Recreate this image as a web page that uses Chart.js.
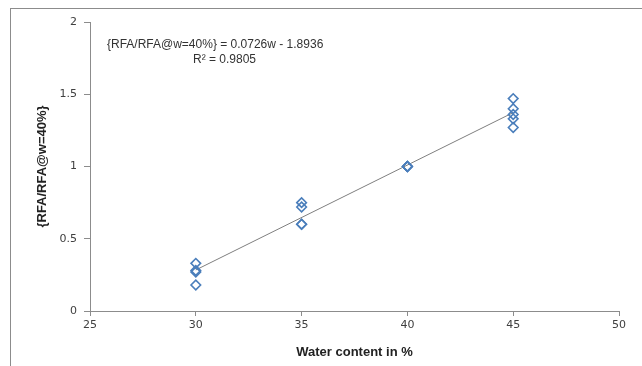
<!DOCTYPE html>
<html>
<head>
<meta charset="utf-8">
<script src="https://cdn.jsdelivr.net/npm/chart.js@4"></script>
<style>
  body { margin: 0; background: #fff; }
  #wrap { position: relative; width: 642px; height: 366px; overflow: hidden; }
  #frame { position: absolute; left: 10px; top: 8px; width: 700px; height: 400px; border: 1px solid #8c8c8c; }
  canvas { position: absolute; left: 0; top: 0; }
</style>
</head>
<body>
<div id="wrap">
  <div id="frame"></div>
  <canvas id="chart" width="642" height="366"></canvas>
</div>
<script>
const waterContent = [30, 30, 30, 30, 35, 35, 35, 35, 40, 40, 40, 40, 45, 45, 45, 45, 45];
const rfaRatio = [0.33, 0.28, 0.27, 0.18, 0.75, 0.72, 0.60, 0.60, 1.0, 1.0, 1.0, 1.0, 1.47, 1.40, 1.36, 1.33, 1.27];

// trend line end points
const trendX = [30, 45];
const trendY = [0.284, 1.373];

const xTicks = [25, 30, 35, 40, 45, 50];
const yTicks = [0, 0.5, 1, 1.5, 2];

const equationText = '{RFA/RFA@w=40%} = 0.0726w - 1.8936';
const r2Text = 'R\u00b2 = 0.9805';

const axisColor = '#8c8c8c';

const equationLabel = {
  id: 'equationLabel',
  afterDraw(chart) {
    const ctx = chart.ctx;
    ctx.save();
    ctx.fillStyle = '#333';
    ctx.font = '12px "Liberation Sans", Arial, sans-serif';
    ctx.textBaseline = 'alphabetic';
    ctx.textAlign = 'left';
    ctx.fillText(equationText, 107, 48);
    ctx.fillText(r2Text, 193, 63);
    ctx.restore();
  }
};

new Chart(document.getElementById('chart'), {
  type: 'scatter',
  data: {
    datasets: [
      {
        label: 'RFA ratio',
        data: waterContent.map((w, i) => ({ x: w, y: rfaRatio[i] })),
        pointStyle: 'rectRot',
        pointRadius: 4.8,
        pointBorderWidth: 1.6,
        pointBackgroundColor: 'rgba(255,255,255,0)',
        pointBorderColor: '#4a7ebb'
      },
      {
        label: 'Linear',
        type: 'line',
        data: trendX.map((w, i) => ({ x: w, y: trendY[i] })),
        borderColor: '#7f7f7f',
        borderWidth: 1,
        pointRadius: 0,
        fill: false
      }
    ]
  },
  plugins: [equationLabel],
  options: {
    responsive: false,
    animation: false,
    layout: { padding: { left: 0, right: 23, top: 22, bottom: 0 } },
    plugins: {
      legend: { display: false },
      tooltip: { enabled: false }
    },
    scales: {
      x: {
        type: 'linear',
        min: 25,
        max: 50,
        afterBuildTicks: (s) => { s.ticks = xTicks.map(v => ({ value: v })); },
        afterFit: (s) => { s.height = 55; },
        border: { color: axisColor, width: 1 },
        grid: { drawOnChartArea: false, drawTicks: true, tickLength: 5, color: axisColor },
        ticks: { color: '#404040', font: { family: '"DejaVu Sans", Verdana, sans-serif', size: 11 }, padding: 3, callback: (v) => String(v) },
        title: {
          display: true,
          text: 'Water content in %',
          color: '#222',
          font: { family: '"Liberation Sans", Arial, sans-serif', size: 13, weight: 'bold' },
          padding: { top: 0, bottom: 6 }
        }
      },
      y: {
        type: 'linear',
        min: 0,
        max: 2,
        afterBuildTicks: (s) => { s.ticks = yTicks.map(v => ({ value: v })); },
        afterFit: (s) => { s.width = 90; },
        border: { color: axisColor, width: 1 },
        grid: { drawOnChartArea: false, drawTicks: true, tickLength: 6, color: axisColor },
        ticks: { color: '#404040', font: { family: '"DejaVu Sans", Verdana, sans-serif', size: 11 }, padding: 7, callback: (v) => String(v) },
        title: {
          display: true,
          text: '{RFA/RFA@w=40%}',
          color: '#222',
          font: { family: '"Liberation Sans", Arial, sans-serif', size: 13, weight: 'bold' },
          padding: { top: 35, bottom: 0 }
        }
      }
    }
  }
});
</script>
</body>
</html>
